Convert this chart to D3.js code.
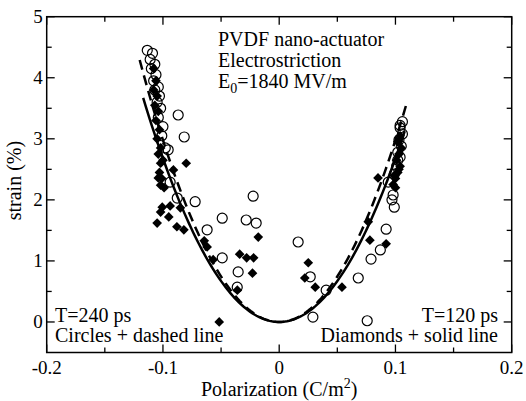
<!DOCTYPE html>
<html>
<head>
<meta charset="utf-8">
<script src="https://cdn.jsdelivr.net/npm/d3@7"></script>
<style>
  body { margin: 0; background: white; }
  text { font-family: "Liberation Serif", "Times New Roman", serif; fill: black; }
</style>
</head>
<body>
<div id="chart"></div>
<script>
// data (polarization C/m^2, strain %)
var circlesP = [-0.1135, -0.109, -0.111, -0.107, -0.110, -0.106, -0.108, -0.104, -0.107, -0.103, -0.105, -0.102, -0.104, -0.100, -0.101, -0.098,
                -0.0869, -0.0817, -0.0955, -0.0938, -0.0877, -0.0723, -0.049, -0.062, -0.0224, -0.0284, -0.0198, -0.049, -0.0353, -0.0361,
                0.0163, 0.0267, 0.0404, 0.068, 0.029, 0.0757, 0.079, 0.087, 0.092, 0.099, 0.0938, 0.098, 0.097,
                0.106, 0.104, 0.106, 0.103, 0.105, 0.102, 0.104, 0.101, 0.099, 0.104, 0.102]
var circlesS = [4.45, 4.40, 4.30, 4.22, 4.15, 4.05, 3.95, 3.85, 3.80, 3.70, 3.60, 3.50, 3.35, 3.20, 3.05, 2.85,
                3.39, 3.03, 2.82, 2.29, 2.03, 1.97, 1.70, 1.51, 2.06, 1.67, 1.62, 1.05, 0.82, 0.57,
                1.31, 0.74, 0.52, 0.72, 0.08, 0.02, 1.03, 1.18, 1.52, 1.88, 2.29, 2.08, 2.00,
                3.28, 3.18, 3.08, 2.98, 2.88, 2.78, 2.70, 2.55, 2.42, 3.22, 2.65]

var diamondsP = [-0.108, -0.106, -0.108, -0.105, -0.107, -0.104, -0.106, -0.103, -0.105, -0.102, -0.104, -0.100, -0.103, -0.101, -0.099,
                 -0.102, -0.080, -0.091, -0.104, -0.102, -0.1006, -0.0938, -0.102, -0.105, -0.095, -0.088, -0.082, -0.085, -0.0645, -0.062,
                 -0.0568, -0.034, -0.028, -0.022, -0.023, -0.018, -0.036, -0.0516,
                 0.025, 0.022, 0.031, 0.054, 0.0766, 0.078, 0.092, 0.085,
                 0.098, 0.100, 0.102, 0.104, 0.101, 0.103, 0.105, 0.099, 0.102, 0.104, 0.100, 0.103]
var diamondsS = [4.15, 3.95, 3.80, 3.70, 3.55, 3.45, 3.30, 3.15, 3.00, 2.85, 2.75, 2.65, 2.45, 2.35, 2.20,
                 2.60, 2.60, 2.49, 2.36, 2.24, 1.88, 1.90, 1.80, 1.62, 1.72, 1.56, 1.51, 1.87, 1.33, 1.23,
                 1.02, 1.11, 1.05, 1.05, 0.80, 1.39, 0.52, 0.00,
                 0.97, 0.72, 0.57, 0.57, 1.64, 1.34, 1.28, 2.36,
                 2.25, 2.35, 2.45, 2.55, 2.65, 2.75, 2.85, 2.40, 2.95, 3.05, 2.20, 2.50]

// fitted curves: strain = a * P^2
var solidCoef = 268, solidRange = [-0.117, 0.108]
var dashedCoef = 298, dashedRange = [-0.12, 0.109]

var xTicks = [-0.2, -0.1, 0, 0.1, 0.2]
var xMinor = [-0.15, -0.05, 0.05, 0.15]
var yTicks = [0, 1, 2, 3, 4, 5]
var yMinor = [0.5, 1.5, 2.5, 3.5, 4.5]

var width = 526, height = 401
var pLeft = 46.7, pRight = 511.7, pTop = 16.7, pBottom = 352.5

var svg = d3.select("#chart").append("svg")
            .attr("width", width).attr("height", height)

var x = d3.scaleLinear().domain([-0.2, 0.2]).range([pLeft, pRight])
var y = d3.scaleLinear().domain([-0.5, 5]).range([pBottom, pTop])

// curves
function curvePts(a, r) {
  var pts = []
  for (var i = 0; i <= 120; i++) {
    var p = r[0] + (r[1] - r[0]) * i / 120
    pts.push([p, a * p * p])
  }
  return pts
}
var line = d3.line().x(function(d) { return x(d[0]) }).y(function(d) { return y(d[1]) })

svg.append("path").attr("d", line(curvePts(solidCoef, solidRange)))
   .attr("fill", "none").attr("stroke", "black").attr("stroke-width", 2.5)
svg.append("path").attr("d", line(curvePts(dashedCoef, dashedRange)))
   .attr("fill", "none").attr("stroke", "black").attr("stroke-width", 2.5)
   .attr("stroke-dasharray", "10,6")

// circles (T=240 ps)
svg.selectAll(".circ").data(circlesP).enter()
   .append("circle").attr("class", "circ")
   .attr("cx", function(d) { return x(d) })
   .attr("cy", function(d, i) { return y(circlesS[i]) })
   .attr("r", 5)
   .attr("fill", "none").attr("stroke", "black").attr("stroke-width", 1.2)

// diamonds (T=120 ps)
var dia = d3.symbol().type(d3.symbolDiamond2).size(60)
svg.selectAll(".dia").data(diamondsP).enter()
   .append("path").attr("class", "dia")
   .attr("d", dia)
   .attr("transform", function(d, i) { return "translate(" + x(d) + "," + y(diamondsS[i]) + ")" })
   .attr("fill", "black")

// frame + ticks (inward on all sides)
svg.append("rect").attr("x", pLeft).attr("y", pTop)
   .attr("width", pRight - pLeft).attr("height", pBottom - pTop)
   .attr("fill", "none").attr("stroke", "black").attr("stroke-width", 1.5)

function xt(vals, len) {
  vals.forEach(function(v) {
    svg.append("line").attr("x1", x(v)).attr("x2", x(v)).attr("y1", pBottom).attr("y2", pBottom - len)
       .attr("stroke", "black").attr("stroke-width", 1.3)
    svg.append("line").attr("x1", x(v)).attr("x2", x(v)).attr("y1", pTop).attr("y2", pTop + len)
       .attr("stroke", "black").attr("stroke-width", 1.3)
  })
}
function yt(vals, len) {
  vals.forEach(function(v) {
    svg.append("line").attr("x1", pLeft).attr("x2", pLeft + len).attr("y1", y(v)).attr("y2", y(v))
       .attr("stroke", "black").attr("stroke-width", 1.3)
    svg.append("line").attr("x1", pRight).attr("x2", pRight - len).attr("y1", y(v)).attr("y2", y(v))
       .attr("stroke", "black").attr("stroke-width", 1.3)
  })
}
xt(xTicks, 8); xt(xMinor, 5)
yt(yTicks, 8); yt(yMinor, 5)

// tick labels
svg.selectAll(".xlab").data(xTicks).enter()
   .append("text").attr("class", "xlab")
   .attr("x", function(d) { return x(d) }).attr("y", pBottom + 21)
   .attr("text-anchor", "middle").style("font-size", "19px")
   .text(function(d) { return String(d) })
svg.selectAll(".ylab").data(yTicks).enter()
   .append("text").attr("class", "ylab")
   .attr("x", pLeft - 4).attr("y", function(d) { return y(d) + 6.5 })
   .attr("text-anchor", "end").style("font-size", "19px")
   .text(function(d) { return d })

// axis titles
var xTitle = svg.append("text").attr("x", x(0)).attr("y", 396)
   .attr("text-anchor", "middle").style("font-size", "20px")
xTitle.append("tspan").text("Polarization (C/m")
xTitle.append("tspan").attr("dy", -8).style("font-size", "14px").text("2")
xTitle.append("tspan").attr("dy", 8).text(")")

svg.append("text").attr("transform", "translate(21," + ((pTop + pBottom) / 2 - 4) + ") rotate(-90)")
   .attr("text-anchor", "middle").style("font-size", "20px")
   .text("strain (%)")

// annotations
svg.append("text").attr("x", 218).attr("y", 46).style("font-size", "20px").text("PVDF nano-actuator")
svg.append("text").attr("x", 218).attr("y", 67).style("font-size", "20px").text("Electrostriction")
var e0 = svg.append("text").attr("x", 218).attr("y", 88).style("font-size", "20px")
e0.append("tspan").text("E")
e0.append("tspan").attr("dy", 5).style("font-size", "14px").text("0")
e0.append("tspan").attr("dy", -5).text("=1840 MV/m")

svg.append("text").attr("x", 55).attr("y", 322).style("font-size", "20px").text("T=240 ps")
svg.append("text").attr("x", 55).attr("y", 342).style("font-size", "20px").text("Circles + dashed line")
svg.append("text").attr("x", 498).attr("y", 322).attr("text-anchor", "end").style("font-size", "20px").text("T=120 ps")
svg.append("text").attr("x", 498).attr("y", 342).attr("text-anchor", "end").style("font-size", "20px").text("Diamonds + solid line")
</script>
</body>
</html>
